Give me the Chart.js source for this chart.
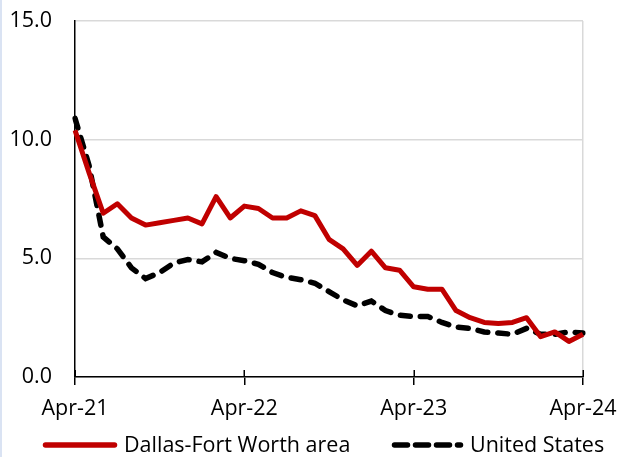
<!DOCTYPE html>
<html>
<head>
<meta charset="utf-8">
<script src="https://cdn.jsdelivr.net/npm/chart.js@4"></script>
<style>
  html, body { margin: 0; padding: 0; background: #fff; }
  body { width: 619px; height: 457px; overflow: hidden; border-left: 2px solid #dae3f3; box-sizing: border-box; }
  #wrap { width: 617px; height: 457px; }
</style>
</head>
<body>
<div id="wrap"><canvas id="myChart"></canvas></div>
<script>
// months Apr-21 .. Apr-24
const months = ['Apr-21','May-21','Jun-21','Jul-21','Aug-21','Sep-21','Oct-21','Nov-21','Dec-21',
  'Jan-22','Feb-22','Mar-22','Apr-22','May-22','Jun-22','Jul-22','Aug-22','Sep-22','Oct-22','Nov-22','Dec-22',
  'Jan-23','Feb-23','Mar-23','Apr-23','May-23','Jun-23','Jul-23','Aug-23','Sep-23','Oct-23','Nov-23','Dec-23',
  'Jan-24','Feb-24','Mar-24','Apr-24']

const dfwValues = [10.4, 8.6, 6.9, 7.3, 6.7, 6.4, 6.5, 6.6, 6.7, 6.45, 7.6, 6.7,
  7.2, 7.1, 6.7, 6.7, 7.0, 6.8, 5.8, 5.4, 4.7, 5.3, 4.6, 4.5,
  3.8, 3.7, 3.7, 2.8, 2.5, 2.3, 2.25, 2.3, 2.5, 1.7, 1.9, 1.5, 1.8]

const usValues = [10.9, 8.9, 5.9, 5.4, 4.6, 4.15, 4.4, 4.8, 4.95, 4.85, 5.25, 5.0,
  4.9, 4.75, 4.4, 4.2, 4.1, 3.95, 3.6, 3.25, 3.0, 3.2, 2.8, 2.6,
  2.55, 2.55, 2.3, 2.1, 2.05, 1.9, 1.85, 1.8, 2.05, 1.8, 1.8, 1.9, 1.85]

const yTicks = [0, 5, 10, 15]

const fontFam = '"Open Sans", sans-serif'
const fontSize = 21.5

// legend like the excel one: line sample + text, drawn under the axis
// also the little part of the year ticks that pokes above the x axis
const bottomLegend = {
    id: 'bottomLegend',
    afterDraw(chart) {
        const c = chart.ctx
        const xs = chart.scales.x
        c.save()
        c.strokeStyle = '#000'
        c.lineWidth = 1.5
        for (let i = 0; i < months.length; i += 12) {
            const px = Math.round(xs.getPixelForTick(i)) + 0.25
            c.beginPath()
            c.moveTo(px, xs.top - 7)
            c.lineTo(px, xs.top)
            c.stroke()
        }

        const y = 445
        const items = [
            { ds: chart.data.datasets[0], x0: 43.5, x1: 112.5, tx: 122, dash: [] },
            { ds: chart.data.datasets[1], x0: 392.5, x1: 458.5, tx: 468, dash: [13, 8] }
        ]
        c.font = fontSize + 'px ' + fontFam
        c.textBaseline = 'middle'
        for (let it of items) {
            c.beginPath()
            c.setLineDash(it.dash)
            c.lineCap = 'round'
            c.lineWidth = 5.5
            c.strokeStyle = it.ds.borderColor
            c.moveTo(it.x0, y)
            c.lineTo(it.x1, y)
            c.stroke()
            c.fillStyle = '#000'
            c.fillText(it.ds.label, it.tx, y + 1)
        }
        c.restore()
    }
}

const ctx = document.getElementById('myChart')
const chart = new Chart(ctx, {
    type: 'line',
    data: {
        labels: months,
        datasets: [{
            label: 'Dallas-Fort Worth area',
            data: dfwValues,
            borderColor: '#c00000',
            backgroundColor: '#c00000',
            borderWidth: 5,
            pointRadius: 0,
            tension: 0,
            borderJoinStyle: 'round'
        }, {
            label: 'United States',
            data: usValues,
            borderColor: '#000000',
            backgroundColor: '#000000',
            borderWidth: 5.5,
            borderDash: [10, 10],
            borderCapStyle: 'round',
            pointRadius: 0,
            tension: 0
        }]
    },
    plugins: [bottomLegend],
    options: {
        responsive: true,
        maintainAspectRatio: false,
        animation: false,
        layout: { padding: { top: 0, right: 0, left: 7, bottom: 0 } },
        plugins: {
            tooltip: { enabled: false },
            legend: { display: false }
        },
        scales: {
            x: {
                border: { color: '#000', width: 1.5 },
                grid: {
                    drawOnChartArea: true,
                    color: (c) => c.index === months.length - 1 ? '#d9d9d9' : 'rgba(0,0,0,0)',
                    tickColor: (c) => c.index % 12 === 0 ? '#000' : 'rgba(0,0,0,0)',
                    tickLength: 8,
                    lineWidth: 1.5
                },
                ticks: {
                    autoSkip: false,
                    maxRotation: 0,
                    color: '#000',
                    font: { family: fontFam, size: fontSize },
                    padding: 11,
                    callback: function (val, i) { return i % 12 === 0 ? months[i] : '' }
                },
                afterFit: (s) => { s.height = 80; s.paddingRight = 36 }
            },
            y: {
                min: 0,
                max: 15,
                border: { color: '#000', width: 1.5 },
                grid: { color: '#d9d9d9', lineWidth: 1.5, drawTicks: false, tickLength: 0 },
                afterBuildTicks: (axis) => { axis.ticks = yTicks.map(v => ({ value: v })) },
                ticks: {
                    color: '#000',
                    font: { family: fontFam, size: fontSize },
                    padding: 23,
                    callback: (v) => v.toFixed(1)
                },
                afterFit: (s) => { s.width = 66; s.paddingTop = 21 }
            }
        }
    }
})
</script>
</body>
</html>
